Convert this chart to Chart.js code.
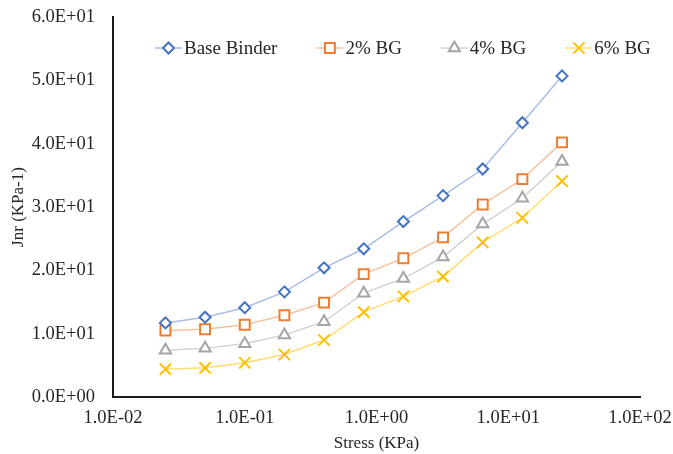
<!DOCTYPE html>
<html>
<head>
<meta charset="utf-8">
<title>Jnr vs Stress</title>
<script src="https://cdn.jsdelivr.net/npm/chart.js@4.4.1/dist/chart.umd.min.js"></script>
<style>
  html, body { margin: 0; padding: 0; background: #fff; }
  #wrap { width: 673px; height: 454px; }
</style>
</head>
<body>
<div id="wrap"><canvas id="jnrChart" width="673" height="454"></canvas></div>
<script>
// ===== DATA =====
const stress = [0.025, 0.05, 0.1, 0.2, 0.4, 0.8, 1.6, 3.2, 6.4, 12.8, 25.6];
const baseBinder = [11.7, 12.6, 14.1, 16.6, 20.4, 23.4, 27.7, 31.8, 36.0, 43.3, 50.7];
const bg2 = [10.5, 10.7, 11.4, 12.9, 14.9, 19.4, 21.9, 25.2, 30.4, 34.4, 40.2];
const bg4 = [7.4, 7.7, 8.4, 9.8, 11.9, 16.4, 18.7, 22.1, 27.3, 31.4, 37.2];
const bg6 = [4.4, 4.6, 5.4, 6.7, 9.0, 13.4, 15.9, 19.0, 24.4, 28.3, 34.1];
const seriesNames = ['Base Binder', '2% BG', '4% BG', '6% BG'];
const xTickValues = [0.01, 0.1, 1, 10, 100];
const yTickValues = [0, 10, 20, 30, 40, 50, 60];

const serif = "'Liberation Serif', 'Times New Roman', serif";
const textColor = '#262626';

// 1.0E+01 uslubidagi yozuv
function sci(v) {
    if (v === 0) return '0.0E+00';
    const exp = Math.floor(Math.log10(Math.abs(v)) + 1e-9);
    const mant = v / Math.pow(10, exp);
    const sign = exp < 0 ? '-' : '+';
    return mant.toFixed(1) + 'E' + sign + String(Math.abs(exp)).padStart(2, '0');
}

function toPoints(values) {
    return stress.map((s, i) => ({ x: s, y: values[i] }));
}

// Legend: chiziq + marker + matn, grafik maydoni ichida
const lineLegend = {
    id: 'lineLegend',
    afterDraw(chart, args, opts) {
        const ctx = chart.ctx;
        ctx.save();
        ctx.font = opts.font;
        ctx.textBaseline = 'middle';
        ctx.textAlign = 'left';
        let x = opts.x;
        const y = opts.y;
        chart.data.datasets.forEach(ds => {
            ctx.strokeStyle = ds.borderColor;
            ctx.lineWidth = ds.borderWidth;
            ctx.beginPath();
            ctx.moveTo(x, y);
            ctx.lineTo(x + opts.lineLength, y);
            ctx.stroke();

            ctx.fillStyle = ds.pointBackgroundColor;
            ctx.strokeStyle = ds.pointBorderColor;
            ctx.lineWidth = ds.pointBorderWidth;
            Chart.helpers.drawPoint(ctx, {
                pointStyle: ds.pointStyle,
                radius: ds.pointRadius,
                rotation: 0,
                borderWidth: ds.pointBorderWidth
            }, x + opts.lineLength / 2, y);

            ctx.fillStyle = opts.color;
            ctx.fillText(ds.label, x + opts.lineLength + 2, y + 1);
            x += opts.lineLength + 2 + ctx.measureText(ds.label).width + opts.gap;
        });
        ctx.restore();
    }
};

function series(label, values, line, marker, style, radius) {
    return {
        label: label,
        data: toPoints(values),
        borderColor: line,
        borderWidth: 1.5,
        pointStyle: style,
        pointRadius: radius,
        pointHoverRadius: radius,
        pointBorderColor: marker,
        pointBackgroundColor: '#ffffff',
        pointBorderWidth: 2,
        tension: 0,
        clip: false
    };
}

const ctx = document.getElementById('jnrChart').getContext('2d');
new Chart(ctx, {
    type: 'line',
    data: {
        datasets: [
            series(seriesNames[0], baseBinder, '#a9bee6', '#4472c4', 'rectRot', 5.5),
            series(seriesNames[1], bg2, '#f7c3a0', '#ed7d31', 'rect', 7),
            series(seriesNames[2], bg4, '#d4d4d4', '#a5a5a5', 'triangle', 6.5),
            series(seriesNames[3], bg6, '#ffdc73', '#ffc000', 'crossRot', 8)
        ]
    },
    options: {
        responsive: false,
        animation: false,
        layout: { padding: { top: 17, right: 33, left: 0, bottom: 0 } },
        plugins: {
            legend: { display: false },
            tooltip: { enabled: false },
            lineLegend: { x: 155, y: 48, lineLength: 27, gap: 39, font: '19px ' + serif, color: textColor }
        },
        scales: {
            x: {
                type: 'logarithmic',
                min: 0.01,
                max: 100,
                afterBuildTicks: s => { s.ticks = xTickValues.map(v => ({ value: v })); },
                afterFit: s => { s.height = 57; s.paddingLeft = 0; s.paddingRight = 0; },
                grid: { display: false, drawTicks: false },
                border: { display: true, color: '#1a1a1a', width: 2 },
                ticks: {
                    autoSkip: false,
                    maxRotation: 0,
                    padding: 10,
                    color: textColor,
                    font: { family: serif, size: 18.5 },
                    callback: v => sci(v)
                },
                title: {
                    display: true,
                    text: 'Stress (KPa)',
                    color: textColor,
                    font: { family: serif, size: 17 },
                    padding: { top: 0, bottom: 0 }
                }
            },
            y: {
                type: 'linear',
                min: 0,
                max: 60,
                afterBuildTicks: s => { s.ticks = yTickValues.map(v => ({ value: v })); },
                afterFit: s => { s.width = 113; s.paddingTop = 0; s.paddingBottom = 0; },
                grid: { display: false, drawTicks: false },
                border: { display: true, color: '#1a1a1a', width: 2 },
                ticks: {
                    padding: 18,
                    color: textColor,
                    font: { family: serif, size: 18.5 },
                    callback: v => sci(v)
                },
                title: {
                    display: true,
                    text: 'Jnr (KPa-1)',
                    color: textColor,
                    font: { family: serif, size: 17 },
                    padding: { top: 8, bottom: 0 }
                }
            }
        }
    },
    plugins: [lineLegend]
});
</script>
</body>
</html>
